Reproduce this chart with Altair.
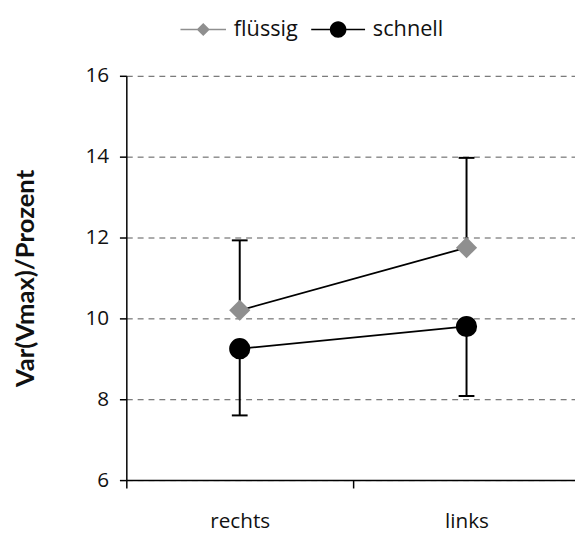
import altair as alt
import pandas as pd

categories = ["rechts", "links"]
series_names = ["flüssig", "schnell"]
marker_names = ["diamond", "circle"]
fluessig_mean = [10.2, 11.75]
fluessig_err_end = [11.93, 13.97]
schnell_mean = [9.25, 9.8]
schnell_err_end = [7.6, 8.08]
y_ticks = [6, 8, 10, 12, 14, 16]
series_colors = ["#8f8f8f", "#000000"]

rows = []
for i, c in enumerate(categories):
    rows.append({"cat": c, "series": series_names[0], "marker": marker_names[0], "value": fluessig_mean[i], "err": fluessig_err_end[i]})
    rows.append({"cat": c, "series": series_names[1], "marker": marker_names[1], "value": schnell_mean[i], "err": schnell_err_end[i]})
df = pd.DataFrame(rows)

FONT = "Open Sans"
TITLE_FONT = "Lato"

x_enc = alt.X(
    "cat:N",
    sort=categories,
    scale=alt.Scale(type="band", range=[0, 460], paddingInner=0, paddingOuter=0),
    axis=alt.Axis(
        title=None, tickBand="extent", grid=False, domainColor="#000", domainWidth=1.5,
        tickColor="#000", tickSize=8, tickWidth=1.5, labelFont=FONT, labelFontSize=21,
        labelColor="#111", labelPadding=23, labelAngle=0,
    ),
)
y_enc = alt.Y(
    "value:Q",
    scale=alt.Scale(domain=[6, 16], nice=False, zero=False),
    axis=alt.Axis(
        values=y_ticks, title="Var(Vmax)/Prozent", titleFont=TITLE_FONT, titleFontWeight="bold",
        titleFontSize=26, titleColor="#111", titleX=-102, titleY=205, titleBaseline="middle",
        titleAngle=-90, grid=True, gridDash=[6, 5], gridColor="#555", gridWidth=1,
        domainColor="#000", domainWidth=1.5, tickColor="#000", tickSize=7, tickWidth=1.5,
        labelFont=FONT, labelFontSize=21, labelColor="#111", labelPadding=11,
    ),
)

base = alt.Chart(df)

rules = base.mark_rule(color="#000", strokeWidth=2).encode(
    x=x_enc, y=y_enc, y2=alt.Y2("err:Q")
)
caps = base.mark_tick(color="#000", size=16, thickness=2, orient="horizontal", opacity=1).encode(
    x=x_enc, y=alt.Y("err:Q")
)
lines = base.mark_line(color="#000", strokeWidth=1.8).encode(
    x=x_enc, y=y_enc, detail="series:N"
)

diamond_path = "M-3.3,-0.11H3.3V0.11H-3.3Z M0,-0.95L0.95,0L0,0.95L-0.95,0Z"
circle_path = "M-4.5,-0.11H3.3V0.11H-4.5Z M-1.8,0A1.2,1.2,0,1,1,0.6,0A1.2,1.2,0,1,1,-1.8,0Z"
shape_expr = "datum.value === 'flüssig' ? '%s' : '%s'" % (diamond_path, circle_path)

points = base.mark_point(filled=True, size=460, opacity=1, strokeWidth=0).encode(
    x=x_enc,
    y=y_enc,
    color=alt.Color(
        "series:N",
        scale=alt.Scale(domain=series_names, range=series_colors),
        legend=alt.Legend(
            title=None, orient="none", legendX=67, legendY=-58, direction="horizontal",
            symbolSize=196, symbolStrokeWidth=0, symbolOpacity=1, labelOffset=20,
            columnPadding=13, labelFont=FONT, labelFontSize=22, labelColor="#111",
            symbolType=alt.ExprRef(expr=shape_expr),
        ),
    ),
    shape=alt.Shape(
        "marker:N",
        scale=alt.Scale(domain=marker_names, range=["diamond", "circle"]),
        legend=None,
    ),
)

chart = (
    alt.layer(rules, caps, lines, points)
    .properties(
        width=455,
        height=410,
        autosize=alt.AutoSizeParams(type="none"),
        padding={"left": 120, "top": 65, "right": 0, "bottom": 58},
        background="white",
    )
    .configure_view(stroke=None)
)

chart.save("out.html", embed_options={"renderer": "svg", "actions": False})
